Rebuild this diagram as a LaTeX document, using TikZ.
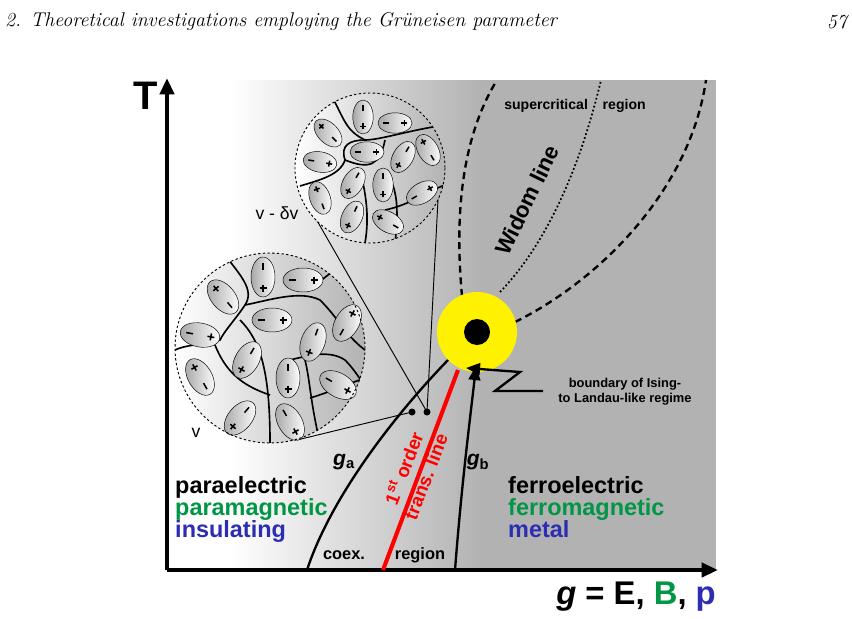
\documentclass[tikz,border=0pt]{standalone}
\usepackage{fontspec}
\newfontfamily\arial{Liberation Sans}
\usetikzlibrary{arrows.meta}
\definecolor{phgreen}{RGB}{0,150,70}
\definecolor{phblue}{RGB}{45,45,180}
\tikzset{
  lbl/.style={font=\arial\bfseries, inner sep=0pt},
  dipole/.pic={
    \draw[thin, left color=gray!70, right color=white] (0,0) ellipse [x radius=12, y radius=20];
    \draw[line width=1.3pt] (-3.5,-11) -- (3.5,-11) (0,-14.5) -- (0,-7.5);
    \draw[line width=1.3pt] (0,7) -- (0,14);
  },
  wall/.style={line width=1.4pt},
}
\begin{document}
\begin{tikzpicture}[x=0.03cm, y=-0.03cm]
  \useasboundingbox (0,0) rectangle (852,618);
  % header
  \node[anchor=west, font=\itshape\fontsize{17}{19}\selectfont, inner sep=0pt] (head) at (5,22) {2. Theoretical investigations employing the Grüneisen parameter};
  \node[anchor=east, font=\itshape\fontsize{17}{19}\selectfont, inner sep=0pt] (page) at (847,22) {57};
  % background
  \fill[white] (167,80) rectangle (230,570);
  \shade[left color=white, right color=gray!60] (229,80) rectangle (481,570);
  \fill[gray!60] (480,80) rectangle (716,570);
  % axes
  \coordinate (O) at (167,570);
  \coordinate (Ty) at (167,78);
  \coordinate (gx) at (718,570);
  \draw[line width=3.5pt, -{Triangle[length=14pt,width=12pt]}] (O) -- (Ty);
  \draw[line width=3.5pt, -{Triangle[length=14pt,width=12pt]}] (O) -- (gx);
  \node[lbl, font=\arial\bfseries\fontsize{34}{36}\selectfont] (T) at (146,96) {T};
  \node[lbl, anchor=east, font=\arial\bfseries\fontsize{28}{30}\selectfont] (gl) at (716,597)
    {\textit{g} = E, \textcolor{phgreen}{B}, \textcolor{phblue}{p}};
  % crossover lines
  \coordinate (cp) at (477,332);
  \draw[line width=2pt, dash pattern=on 6pt off 4pt] (462,296) .. controls (455,220) and (460,140) .. (497,80);
  \draw[line width=2pt, dash pattern=on 6pt off 4pt] (515,322) .. controls (600,280) and (690,190) .. (706,80);
  \draw[line width=1.5pt, dotted] (500,292) .. controls (550,240) and (582,160) .. (601,80);
  \node[lbl, font=\arial\bfseries\fontsize{12}{14}\selectfont] (sc) at (575,106) {supercritical \,\,\, region};
  \node[lbl, rotate=64, font=\arial\bfseries\fontsize{19}{21}\selectfont] (wid) at (527,200) {Widom line};
  % critical point
  \fill[yellow] (cp) circle [radius=40];
  \fill[black] (cp) circle [radius=13];
  % transition lines
  \coordinate (ra) at (458,370);
  \coordinate (rb) at (383,570);
  \draw[red, line width=3.5pt] (ra) -- (rb);
  \draw[line width=2pt] (448,360) .. controls (390,420) and (330,500) .. (307,570);
  \draw[line width=2pt, -{Triangle[length=12pt,width=10pt]}] (455,570) .. controls (462,480) and (470,420) .. (476,366);
  \draw[line width=2pt, -{Triangle[length=12pt,width=10pt]}] (543,391) -- (495,391) -- (520,372) -- (466,368);
  \node[lbl, align=center, font=\arial\bfseries\fontsize{11}{13}\selectfont] (bnd) at (625,392) {boundary of Ising-\\to Landau-like regime};
  \node[lbl, red, rotate=69, align=center, font=\arial\bfseries\fontsize{16}{20}\selectfont] (fo) at (414,472)
    {1\textsuperscript{st} order\\trans. line};
  \node[lbl, font=\arial\bfseries\fontsize{18}{20}\selectfont] (ga) at (344,462) {\textit{g}\textsubscript{a}};
  \node[lbl, font=\arial\bfseries\fontsize{18}{20}\selectfont] (gb) at (478,462) {\textit{g}\textsubscript{b}};
  \node[lbl, font=\arial\bfseries\fontsize{14}{16}\selectfont] (coex) at (344,555) {coex.};
  \node[lbl, font=\arial\bfseries\fontsize{14}{16}\selectfont] (reg) at (420,555) {region};
  \node[lbl, anchor=north west, align=left, font=\arial\bfseries\fontsize{20}{19}\selectfont] (para) at (175,476)
    {paraelectric\\\textcolor{phgreen}{paramagnetic}\\\textcolor{phblue}{insulating}};
  \node[lbl, anchor=north west, align=left, font=\arial\bfseries\fontsize{20}{19}\selectfont] (ferro) at (508,476)
    {ferroelectric\\\textcolor{phgreen}{ferromagnetic}\\\textcolor{phblue}{metal}};
  % zoom lines
  \coordinate (da) at (412,412);
  \coordinate (db) at (427,412);
  \draw[thick] (297,440) -- (da);
  \draw[thick] (308,205) -- (db);
  \draw[thick] (439,180) -- (db);
  \fill (da) circle [radius=3.5];
  \fill (db) circle [radius=3.5];
  % small circle (v - dv)
  \begin{scope}
    \clip (370,168) circle [radius=75];
    \shade[left color=white, right color=gray!60] (295,93) rectangle (445,243);
    \draw[wall] (330,93) .. controls (345,120) and (345,130) .. (365,140) .. controls (380,140) and (410,130) .. (445,125);
    \draw[wall] (300,186) .. controls (320,180) and (340,175) .. (345,160) .. controls (340,145) and (350,140) .. (365,140);
    \draw[wall] (345,160) .. controls (370,170) and (380,165) .. (385,140);
    \draw[wall] (385,170) .. controls (395,185) and (400,200) .. (395,243);
    \draw[wall] (385,210) .. controls (410,205) and (430,190) .. (445,185);
    \draw[wall] (360,170) .. controls (365,190) and (370,215) .. (365,243);
  \end{scope}
  \foreach \px/\py/\ang in {363/117/180, 395/123/-90, 328/133/45, 367/152/-90, 403/157/150,
      428/150/30, 320/162/-100, 353/183/150, 383/185/180, 422/193/-60, 320/198/20, 352/217/155, 388/222/60}
    \pic[rotate=\ang, scale=0.85] at (\px,\py) {dipole};
  \draw[thick, dash pattern=on 2pt off 2pt] (370,168) circle [radius=75];
  \node[lbl, font=\arial\fontsize{15}{17}\selectfont] (vdv) at (277,213) {v - δv};
  % large circle (v)
  \begin{scope}
    \clip (270,348) circle [radius=95];
    \shade[left color=white, right color=gray!60] (175,253) rectangle (365,443);
    \draw[wall] (225,255) .. controls (240,275) and (255,290) .. (245,305) .. controls (235,320) and (225,330) .. (220,340) .. controls (200,345) and (185,345) .. (175,350);
    \draw[wall] (245,305) .. controls (270,300) and (300,290) .. (320,300) .. controls (340,320) and (345,335) .. (365,350);
    \draw[wall] (310,290) .. controls (320,280) and (330,275) .. (345,260);
    \draw[wall] (240,320) .. controls (260,340) and (270,370) .. (270,443);
    \draw[wall] (215,345) .. controls (225,370) and (240,385) .. (270,395);
    \draw[wall] (290,360) .. controls (310,355) and (330,350) .. (345,360) .. controls (355,370) and (360,380) .. (365,385);
    \draw[wall] (305,360) .. controls (310,380) and (310,400) .. (320,443);
    \draw[wall] (310,398) .. controls (330,392) and (345,385) .. (365,378);
  \end{scope}
  \foreach \px/\py/\ang in {263/277/180, 303/280/-90, 223/297/40, 272/320/-90, 347/323/-30,
      200/335/-100, 313/342/160, 247/360/150, 200/377/30, 288/378/180, 338/385/-120, 240/418/140, 290/422/210}
    \pic[rotate=\ang] at (\px,\py) {dipole};
  \draw[thick, dash pattern=on 2pt off 2pt] (270,348) circle [radius=95];
  \node[lbl, font=\arial\fontsize{15}{17}\selectfont] (v) at (196,433) {v};
\end{tikzpicture}
\end{document}
